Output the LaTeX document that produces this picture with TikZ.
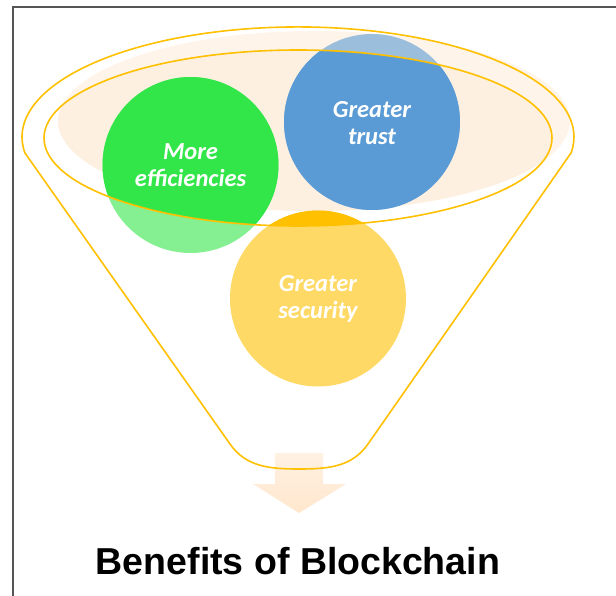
\documentclass[tikz,border=0pt]{standalone}
\usepackage{fontspec}
\newfontfamily\bubblefont{Carlito}
\newfontfamily\headfont{Liberation Sans}
\definecolor{rimyellow}{HTML}{FFC000}
\definecolor{effgreen}{HTML}{32E64A}
\definecolor{trustblue}{HTML}{5B9BD5}
\definecolor{secyellow}{HTML}{FFC000}
\definecolor{peachlight}{HTML}{FFF4EA}
\definecolor{peachdeep}{HTML}{FEF0E1}
\definecolor{arrowtop}{HTML}{FFF1E3}
\definecolor{arrowbot}{HTML}{FFE7CD}
\definecolor{framegray}{HTML}{555555}
\tikzset{
  rim/.style={draw=rimyellow, line width=1.6},
  bubble/.style={circle, minimum size=176, inner sep=0pt},
  bubbletext/.style={text=white, align=center,
    font=\bubblefont\bfseries\itshape\fontsize{24.5}{27}\selectfont},
}
\begin{document}
\begin{tikzpicture}[x=1pt, y=-1pt]
  \useasboundingbox (0,0) rectangle (616,596);

  % page frame (left and top edges)
  \draw[framegray, line width=1.3] (13,596) -- (13,7) -- (616,7);

  % soft peach surface of the funnel mouth
  \fill[peachlight] (314,121) ellipse[x radius=256, y radius=90];
  \begin{scope}
    \clip (298,138) ellipse[x radius=254, y radius=88];
    \fill[peachdeep] (314,121) ellipse[x radius=256, y radius=90];
  \end{scope}

  % output arrow below the funnel
  \shade[top color=arrowtop, bottom color=arrowbot]
    (275,453) -- (323,453) -- (323,484) -- (346,484) -- (299,513)
    -- (253,484) -- (275,484) -- cycle;

  % bubbles, faded where they stick out of the funnel mouth
  \node[bubble, fill=effgreen, fill opacity=0.6] (eff) at (190.5,165) {};
  \node[bubble, fill=trustblue, fill opacity=0.6] (trust) at (372,122) {};
  \node[bubble, fill=secyellow, fill opacity=0.6] (sec) at (318,298.5) {};
  \begin{scope}
    \clip (298,138) ellipse[x radius=254, y radius=88];
    \fill[effgreen] (eff.center) circle[radius=88];
    \fill[trustblue] (trust.center) circle[radius=88];
    \fill[secyellow] (sec.center) circle[radius=88];
  \end{scope}

  % funnel outline: outer rim, sides and rounded bottom
  \draw[rim, line join=round]
    (571,153) arc[start angle=8.4, end angle=-188.4, x radius=276, y radius=110]
    -- (230,444) .. controls (246,467) and (270,469) .. (299,469)
    .. controls (328,469) and (352,467) .. (368,444) -- cycle;
  % inner rim
  \draw[rim] (298,138) ellipse[x radius=254, y radius=88];

  % bubble labels
  \node[bubbletext] (efftext) at (eff.center) {More\\efficiencies};
  \node[bubbletext] (trusttext) at ([yshift=-1]trust.center) {Greater\\trust};
  \node[bubbletext] (sectext) at (sec.center) {Greater\\security};

  % caption
  \node[anchor=base, font=\headfont\bfseries\fontsize{37.5}{40}\selectfont]
    (title) at (298,574) {Benefits of Blockchain};
\end{tikzpicture}
\end{document}
